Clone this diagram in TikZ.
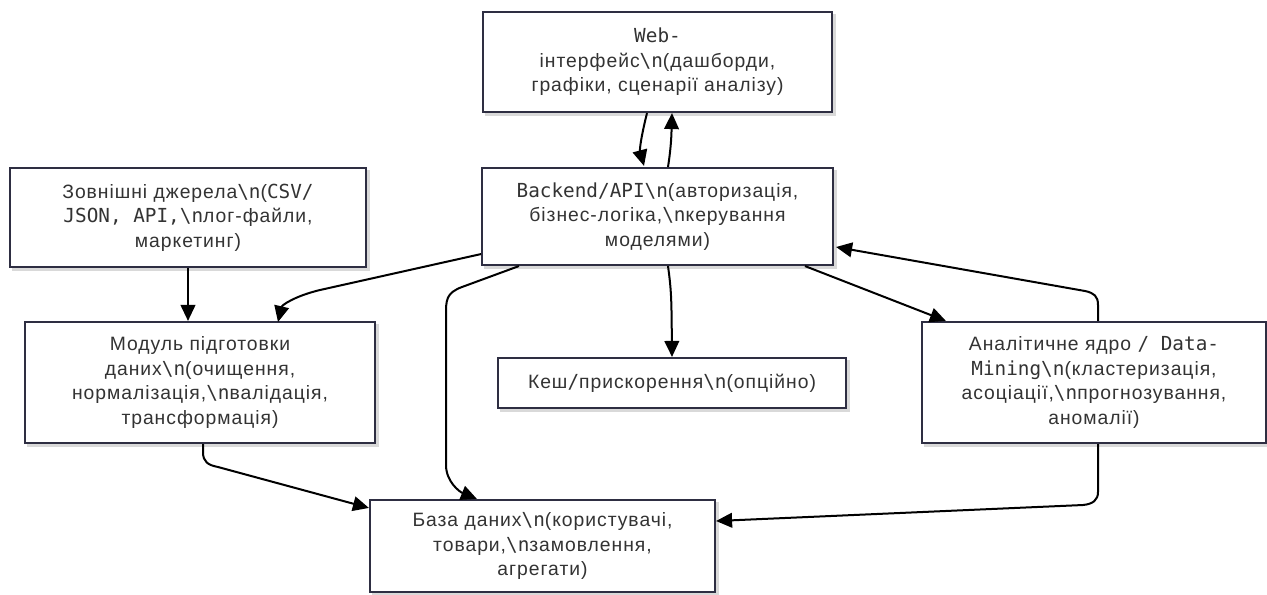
\documentclass[tikz,border=0pt]{standalone}
\usepackage{fontspec}
\setmainfont{Liberation Sans}[LetterSpace=5]
\newfontfamily\monof{DejaVu Sans Mono}[Scale=1.0]
\usetikzlibrary{arrows.meta,calc}
\definecolor{boxline}{HTML}{2E2E42}
\definecolor{txt}{HTML}{333333}
\definecolor{shadowc}{HTML}{D9D9D9}
\newcommand\mm[1]{{\monof #1}}
\newcommand\bsn{{\monof\textbackslash n}}
\tikzset{
  box/.style={draw=boxline, line width=1.6pt, fill=white, rectangle, align=center,
    text=txt, font=\fontsize{14.5}{18.3}\selectfont, inner sep=0pt,
    preaction={draw=shadowc, fill=shadowc, line width=1.6pt, transform canvas={xshift=2pt,yshift=-2pt}}},
  conn/.style={draw=black, line width=1.5pt, -{Triangle[length=12pt,width=11pt]}}
}
\begin{document}
\begin{tikzpicture}[x=0.75pt,y=-0.75pt]
\useasboundingbox (0,0) rectangle (1267,594);
\node[box, minimum width=349*0.75pt, minimum height=100*0.75pt] (web) at (657.5,62)
  {\mm{Web-}\\інтерфейс\bsn(дашборди,\\графіки, сценарії аналізу)};
\node[box, minimum width=356*0.75pt, minimum height=99*0.75pt] (ext) at (188,217.5)
  {Зовнішні джерела\bsn(\mm{CSV/}\\\mm{JSON, API,}\bsn лог-файли,\\маркетинг)};
\node[box, minimum width=351*0.75pt, minimum height=97*0.75pt] (back) at (657.5,216.5)
  {\mm{Backend/API}\bsn(авторизація,\\бізнес-логіка,\bsn керування\\моделями)};
\node[box, minimum width=350*0.75pt, minimum height=121*0.75pt] (prep) at (200,382.5)
  {Модуль підготовки\\даних\bsn(очищення,\\нормалізація,\bsn валідація,\\трансформація)};
\node[box, minimum width=348*0.75pt, minimum height=50*0.75pt] (cache) at (672,383)
  {Кеш\mm{/}прискорення\bsn(опційно)};
\node[box, minimum width=344*0.75pt, minimum height=121*0.75pt] (core) at (1094,382.5)
  {Аналітичне ядро \mm{/ Data-}\\\mm{Mining}\bsn(кластеризація,\\асоціації,\bsn прогнозування,\\аномалії)};
\node[box, minimum width=345*0.75pt, minimum height=92*0.75pt] (db) at (542.5,546)
  {База даних\bsn(користувачі,\\товари,\bsn замовлення,\\агрегати)};

% Web <-> Backend
\draw[conn] ($(web.south)+(-10.5,0)$) .. controls ($(web.south)+(-16,22)$) and ($(web.south)+(-18,36)$) .. ($(back.north)+(-13.5,-1)$);
\draw[conn] ($(back.north)+(10.5,0)$) .. controls ($(back.north)+(14,-22)$) and ($(back.north)+(14,-36)$) .. ($(web.south)+(14.5,0)$);
% External -> Prep
\draw[conn] (ext.south) -- (prep.north -| ext.south);
% Backend -> Prep
\draw[conn] ($(back.south west)+(0,-12)$) -- (320,290) .. controls (295,296) and (282,305) .. (278,322);
% Backend -> DB
\draw[conn] ($(back.south west)+(38,0)$) -- (462,287) .. controls (446,293) and (446,300) .. (446,315) -- (446,465) .. controls (446,482) and (460,492) .. ($(db.north west)+(108,0)$);
% Backend -> Cache
\draw[conn] ($(back.south)+(10.5,0)$) .. controls ($(back.south)+(14,25)$) and ($(back.south)+(14,35)$) .. (cache.north);
% Backend -> Core
\draw[conn] ($(back.south)+(147.5,0)$) -- ($(core.north west)+(25,0)$);
% Core -> Backend
\draw[conn] ($(core.north)+(4,0)$) -- (1098,305) .. controls (1098,296) and (1094,293) .. (1085,291) -- ($(back.east)+(2,30.5)$);
% Prep -> DB
\draw[conn] ($(prep.south)+(3,0)$) -- (203,452) .. controls (203,462) and (208,465) .. (218,467) -- ($(db.north west)+(0,9)$);
% Core -> DB
\draw[conn] ($(core.south)+(4,0)$) -- (1098,492) .. controls (1098,500) and (1093,504) .. (1083,505) -- ($(db.east)+(0,-25)$);
\end{tikzpicture}
\end{document}
